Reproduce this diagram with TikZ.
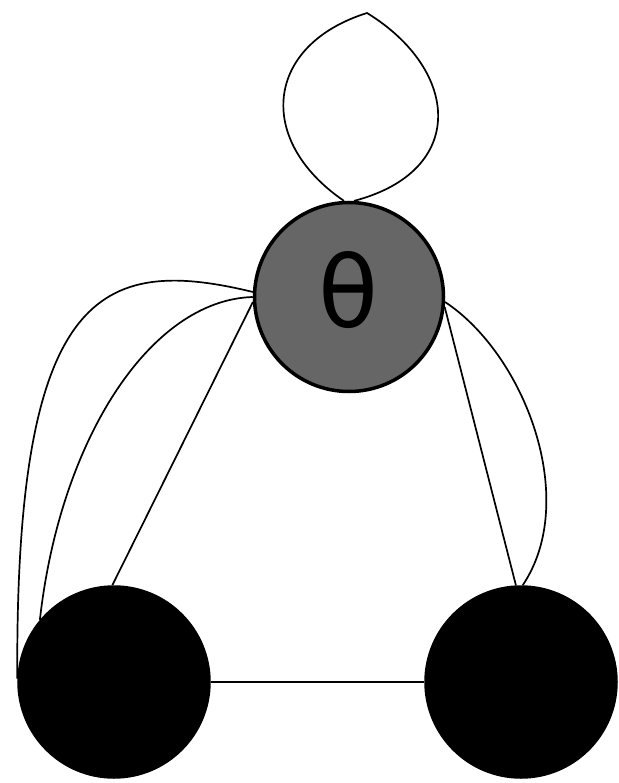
\documentclass[tikz,border=0pt]{standalone}
\usepackage{fontspec}
\newfontfamily\grkfont{DejaVu Sans}
\begin{document}
\begin{tikzpicture}[x=1pt,y=-1pt,
  vtx/.style={circle, draw=black, line width=3.5pt, inner sep=0pt},
  edge/.style={line width=1.7pt, black},
  thick edge/.style={line width=2.8pt, black}]
\useasboundingbox (0,0) rectangle (618,783);
\node[vtx, fill=black!60, minimum size=189pt] (T) at (349,297) {};
\node[vtx, fill=black, minimum size=190pt] (L) at (114,682) {};
\node[vtx, fill=black, minimum size=190pt] (R) at (521,682) {};
\node[inner sep=0pt] (th) at (348,290) {\resizebox{60pt}{76pt}{\grkfont θ}};
\coordinate (looptop) at (367,13);
% self loop
\draw[edge] (T.93) .. controls (255,140) and (265,45) .. (looptop)
                    .. controls (460,70) and (468,171) .. (T.87);
% T -- L
\draw[edge] (T.177) .. controls (100,255) and (15,290) .. (L.178);
\draw[edge] (T.180) .. controls (150,300) and (60,440) .. (L.140);
\draw[edge] (T.183) -- (L.91);
% T -- R
\draw[edge] (T.-6) -- (R.93);
\draw[edge] (T.-3) .. controls (525,355) and (580,500) .. (R.89);
% L -- R
\draw[thick edge] (L) -- (R);
\end{tikzpicture}
\end{document}
